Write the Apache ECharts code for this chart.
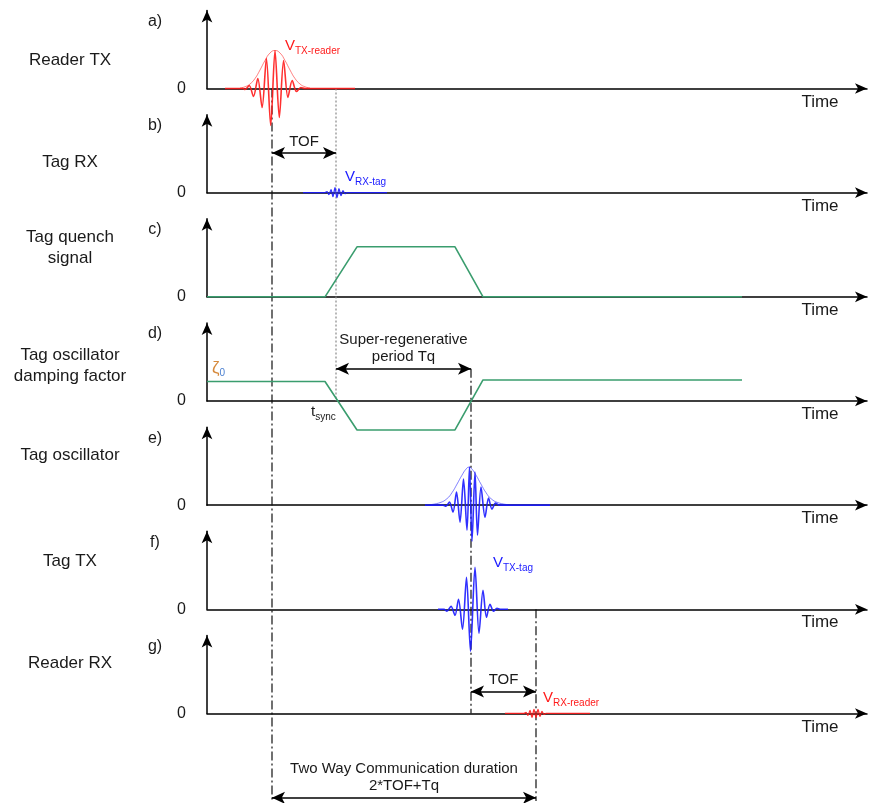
<!DOCTYPE html>
<html>
<head>
<meta charset="utf-8">
<script src="https://cdn.jsdelivr.net/npm/echarts@6/dist/echarts.min.js"></script>
<style>
  html, body { margin: 0; background: #fff; }
  #chart { width: 870px; height: 803px; }
</style>
</head>
<body>
<div id="chart"></div>
<script>
// time axis: arbitrary units, 0 .. 660 across every panel
// amplitude: arbitrary units above the 0 line
var panelNames = ['Reader TX', 'Tag RX', 'Tag quench\nsignal', 'Tag oscillator\ndamping factor', 'Tag oscillator', 'Tag TX', 'Reader RX'];
var panelLetters = ['a)', 'b)', 'c)', 'd)', 'e)', 'f)', 'g)'];

// a) reader transmitted pulse + its envelope
var readerTxWave = [[18,0],[36,0],[38,-1],[42.2,3],[46.5,-8],[50.8,10],[55.1,-19],[59.4,30],[63.7,-37],[68,38],[72.3,-29],[76.6,28],[80.9,-9],[85.2,8],[89.5,-3],[93.8,1],[98,0],[148,0]];
var readerTxEnv = [[33,0.5],[38,1.7],[43,4.5],[48,10],[53,18.5],[58,28],[63,35.5],[68,38],[73,35.5],[78,28],[83,18.5],[88,10],[93,4.5],[98,1.7],[103,0.5]];
// b) pulse received by the tag
var tagRxWave = [[96,0],[118,0],[120,1],[122,-2],[124,3],[126,-4],[128,5],[130,-5],[132,4],[134,-3],[136,2],[138,-1],[140,0],[180,0]];
// c) quench signal, d) damping factor
var quench = [[0,0],[118,0],[150,50],[248,50],[276,0],[535,0]];
var damping = [[0,19.5],[118,19.5],[150,-29],[248,-29],[276,21],[535,21]];
// e) tag oscillator
var tagOscWave = [[218,0],[236,0],[239,-1],[242.5,3],[246,-7],[249.5,13],[253,-17],[256.5,26],[260,-25],[262.5,38],[265,-36],[268,33],[270.5,-30],[274,18],[278,-12],[281.5,7],[285,-4],[288.5,2],[292,0],[343,0]];
var tagOscEnv = [[223,0.5],[233,2.5],[240,6.5],[245,12.5],[250,21],[255,30],[259,36],[262,38],[265,36],[269,30],[274,21],[279,12.5],[284,6.5],[291,2.5],[301,0.5]];
// f) tag transmitted pulse
var tagTxWave = [[231,0],[237,0],[240,-2],[244,3],[248,-6],[251.5,10],[255.5,-20],[259.5,32],[263.5,-42],[268,42],[272,-24],[276,19],[279.5,-8],[283,5],[286.5,-2],[290,1],[293,0],[301,0]];
// g) pulse received by the reader
var readerRxWave = [[298,0],[317,0],[319,1],[321,-2],[323,3],[325,-4],[327,4],[329,-4],[331,4],[333,-3],[335,2],[337,-1],[339,0],[383,0]];

// event times and where the guide lines run (row = panel index of the 0 line)
var tTx = 65, tRxTag = 129, tOsc = 264, tRxReader = 329;
var guides = [
  { t: tTx, from: 0, to: 6.84, type: [9, 3, 2, 3], color: '#111' },
  { t: tRxTag, from: 0, to: 3.0, type: [2, 2], color: '#888' },
  { t: tOsc, from: 2.69, to: 6.0, type: [9, 3, 2, 3], color: '#111' },
  { t: tRxReader, from: 5.0, to: 6.84, type: [9, 3, 2, 3], color: '#111' }
];
var spans = [
  { name: 'TOF', from: tTx, to: tRxTag, row: 0.62 },
  { name: 'Super-regenerative\nperiod Tq', from: tRxTag, to: tOsc, row: 2.69 },
  { name: 'TOF', from: tOsc, to: tRxReader, row: 5.79 },
  { name: 'Two Way Communication duration\n2*TOF+Tq', from: tTx, to: tRxReader, row: 6.81 }
];

var FONT = '"Liberation Sans", Arial, sans-serif';
var RED = '#ff1a1a', BLUE = '#1a1aff', GREEN = '#3a9d6e', INK = '#1a1a1a';
var ROW = 104.16, BASE0 = 88.5, AXIS_H = 78, LEFT = 207, SPAN = 660, H = 803;
function base(k) { return BASE0 + ROW * k; }

var chart = echarts.init(document.getElementById('chart'));

var grids = [], xAxes = [], yAxes = [], series = [], graphics = [];
var axisStyle = { color: '#000', width: 1.5 };

for (var k = 0; k < 7; k++) {
  grids.push({ left: LEFT, width: SPAN, top: base(k) - AXIS_H, height: AXIS_H });
  xAxes.push({
    gridIndex: k, type: 'value', min: 0, max: SPAN,
    axisLine: { show: true, onZero: true, symbol: ['none', 'arrow'], symbolSize: [8, 12], lineStyle: axisStyle },
    axisTick: { show: false }, axisLabel: { show: false }, splitLine: { show: false },
    name: 'Time', nameLocation: 'end', nameGap: -47,
    nameTextStyle: { fontFamily: FONT, fontSize: 17, color: INK, align: 'center', verticalAlign: 'top', padding: [5, 0, 0, 0] }
  });
  yAxes.push({
    gridIndex: k, type: 'value', min: 0, max: AXIS_H, interval: AXIS_H,
    axisLine: { show: true, symbol: ['none', 'arrow'], symbolSize: [8, 12], lineStyle: axisStyle },
    axisTick: { show: false }, splitLine: { show: false },
    axisLabel: { margin: 21, fontSize: 16, color: INK, fontFamily: FONT, formatter: function (v) { return v === 0 ? '0' : ''; } }
  });
}
// overlay grid for the guide lines and the time spans
grids.push({ left: LEFT, width: SPAN, top: 0, height: H });
xAxes.push({ gridIndex: 7, type: 'value', min: 0, max: SPAN, show: false });
yAxes.push({ gridIndex: 7, type: 'value', inverse: true, min: -BASE0 / ROW, max: (H - BASE0) / ROW, show: false });

function signal(k, data, color, width, smooth, opacity) {
  series.push({
    type: 'line', xAxisIndex: k, yAxisIndex: k, data: data, clip: false,
    showSymbol: false, smooth: smooth, silent: true,
    lineStyle: { color: color, width: width, opacity: opacity }, z: 5
  });
}
signal(0, readerTxEnv, RED, 1, true, 0.55);
signal(0, readerTxWave, RED, 1.6, 0.3, 0.9);
signal(1, tagRxWave, BLUE, 1.3, 0.3, 0.9);
signal(2, quench, GREEN, 1.6, false, 1);
signal(3, damping, GREEN, 1.6, false, 1);
signal(4, tagOscEnv, BLUE, 1, true, 0.55);
signal(4, tagOscWave, BLUE, 1.6, 0.3, 0.9);
signal(5, tagTxWave, BLUE, 1.6, 0.3, 0.9);
signal(6, readerRxWave, RED, 1.3, 0.3, 0.9);

guides.forEach(function (g, i) {
  var s = {
    type: 'line', xAxisIndex: 7, yAxisIndex: 7, silent: true, showSymbol: false, z: 3,
    data: [[g.t, g.from], [g.t, g.to]],
    lineStyle: { color: g.color, width: 1.2, type: g.type }
  };
  if (i === 0) {
    s.markLine = {
      silent: true, symbol: ['arrow', 'arrow'], symbolSize: [9, 13], animation: false,
      lineStyle: { color: '#000', width: 1.5, type: 'solid' },
      label: { show: true, position: 'middle', formatter: '{b}', distance: 3, fontFamily: FONT, fontSize: 15, lineHeight: 17, color: INK },
      data: spans.map(function (sp) {
        return [{ name: sp.name, coord: [sp.from, sp.row] }, { coord: [sp.to, sp.row] }];
      })
    };
  }
  series.push(s);
});

var nameRise = [28, 30, 49, 35, 50, 48, 50];
for (var j = 0; j < 7; j++) {
  graphics.push({
    type: 'text', x: 70, y: base(j) - nameRise[j],
    style: { text: panelNames[j], font: '17px ' + FONT, fill: INK, align: 'center', verticalAlign: 'middle', lineHeight: 21 }
  });
  graphics.push({
    type: 'text', x: 155, y: base(j) - 67,
    style: { text: panelLetters[j], font: '16px ' + FONT, fill: INK, align: 'center', verticalAlign: 'middle' }
  });
}

function subLabel(x, y, main, sub, color, mainColor, mainSize) {
  graphics.push({
    type: 'text', x: x, y: y,
    style: {
      text: '{v|' + main + '}{s|' + sub + '}', align: 'left', verticalAlign: 'middle',
      rich: {
        v: { fontFamily: FONT, fontSize: mainSize || 15, lineHeight: 18, fill: mainColor || color, verticalAlign: 'top' },
        s: { fontFamily: FONT, fontSize: 10, lineHeight: 10, fill: color, verticalAlign: 'bottom' }
      }
    }
  });
}
subLabel(285, base(0) - 41, 'V', 'TX-reader', RED);
subLabel(345, base(1) - 14, 'V', 'RX-tag', BLUE);
subLabel(493, base(5) - 45, 'V', 'TX-tag', BLUE);
subLabel(543, base(6) - 14, 'V', 'RX-reader', RED);
subLabel(212, base(3) - 32, '\u03b6', '0', '#4a7fd0', '#d68a3c', 17);
subLabel(311, base(3) + 12, 't', 'sync', INK);

chart.setOption({
  animation: false,
  backgroundColor: '#fff',
  grid: grids,
  xAxis: xAxes,
  yAxis: yAxes,
  series: series,
  graphic: graphics
});
</script>
</body>
</html>
